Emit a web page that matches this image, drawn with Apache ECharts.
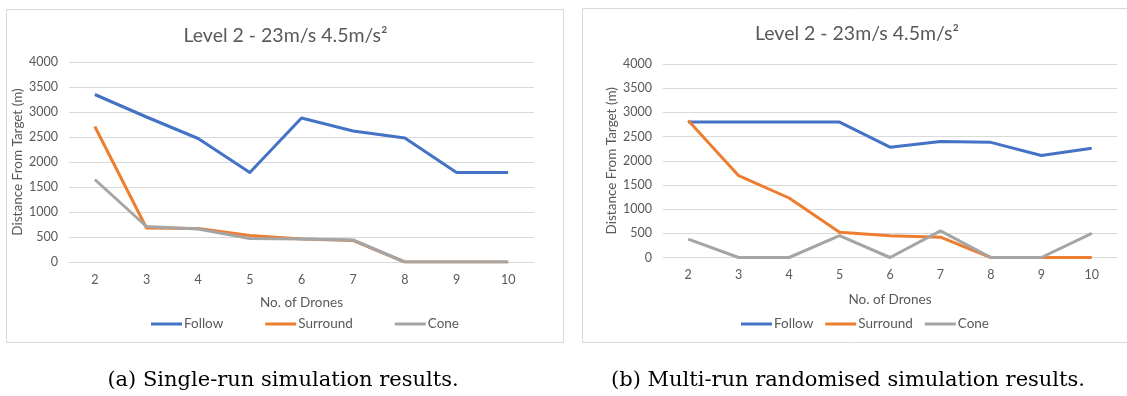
<!DOCTYPE html>
<html>
<head>
<meta charset="utf-8">
<script src="https://cdn.jsdelivr.net/npm/echarts@6/dist/echarts.min.js"></script>
<style>
  html, body { margin:0; padding:0; background:#fff; }
  #chart { width:1127px; height:396px; }
</style>
</head>
<body>
<div id="chart"></div>
<script>
    // number of drones (x categories)
    var drones = ['2', '3', '4', '5', '6', '7', '8', '9', '10']

    // (a) single-run
    var singleFollow   = [3350, 2900, 2470, 1790, 2880, 2620, 2480, 1790, 1790]
    var singleSurround = [2710, 680, 670, 530, 460, 430, 0, 0, 0]
    var singleCone     = [1650, 710, 660, 470, 460, 440, 0, 0, 0]

    // (b) multi-run randomised
    var multiFollow   = [2800, 2800, 2800, 2800, 2280, 2400, 2380, 2110, 2260]
    var multiSurround = [2830, 1690, 1230, 520, 450, 420, 0, 0, 0]
    var multiCone     = [380, 0, 0, 450, 0, 550, 0, 0, 500]

    var yTicks = { min: 0, max: 4000, interval: 500 }

    var chartTitle = 'Level 2 - 23m/s 4.5m/s\u00b2'
    var captions = ['(a) Single-run simulation results.', '(b) Multi-run randomised simulation results.']

    var FONT = 'Lato'
    var GREY = '#595959'
    var GRID = '#d9d9d9'
    var colors = { Follow: '#4472c4', Surround: '#ed7d31', Cone: '#a5a5a5' }

    function xAxis(idx, gap){
        return {
            type: 'category',
            gridIndex: idx,
            data: drones,
            name: 'No. of Drones',
            nameLocation: 'middle',
            nameGap: gap,
            nameTextStyle: { color: GREY, fontFamily: FONT, fontSize: 13.5 },
            axisLine: { lineStyle: { color: GRID, width: 1 } },
            axisTick: { show: false },
            axisLabel: { color: GREY, fontFamily: FONT, fontSize: 12.5, margin: 11 }
        }
    }
    function yAxis(idx, gap){
        return {
            type: 'value',
            gridIndex: idx,
            min: yTicks.min,
            max: yTicks.max,
            interval: yTicks.interval,
            name: 'Distance From Target (m)',
            nameLocation: 'middle',
            nameGap: gap,
            nameTextStyle: { color: GREY, fontFamily: FONT, fontSize: 13.5 },
            axisLine: { show: false },
            axisTick: { show: false },
            splitLine: { lineStyle: { color: GRID, width: 1 } },
            axisLabel: { color: GREY, fontFamily: FONT, fontSize: 12.5, margin: 11, formatter: function (v) { return String(v) } }
        }
    }
    function line(name, data, idx){
        return {
            type: 'line',
            name: name,
            xAxisIndex: idx,
            yAxisIndex: idx,
            data: data,
            showSymbol: false,
            symbol: 'none',
            color: colors[name],
            lineStyle: { width: 3, color: colors[name], join: 'round' },
            animation: false
        }
    }
    function legend(left, gap){
        return {
            left: left,
            top: 312,
            itemWidth: 31,
            itemHeight: 3,
            itemGap: gap,
            icon: 'rect',
            data: ['Follow', 'Surround', 'Cone'],
            textStyle: { color: GREY, fontFamily: FONT, fontSize: 13.5, padding: [0, 0, 0, -3] }
        }
    }
    function label(text, x, y, size, family, color){
        return {
            type: 'text',
            x: x, y: y,
            style: { text: text, fill: color, font: size + 'px ' + family, textAlign: 'center', textVerticalAlign: 'middle' }
        }
    }

    var chart = echarts.init(document.getElementById('chart'))
    chart.setOption({
        animation: false,
        grid: [
            { left: 69, top: 62, width: 465, height: 200 },
            { left: 663, top: 64, width: 454, height: 193.5 }
        ],
        xAxis: [xAxis(0, 34), xAxis(1, 35)],
        yAxis: [yAxis(0, 40), yAxis(1, 42)],
        legend: [legend(146, 42), legend(736, 12)],
        series: [
            line('Follow', singleFollow, 0),
            line('Surround', singleSurround, 0),
            line('Cone', singleCone, 0),
            line('Follow', multiFollow, 1),
            line('Surround', multiSurround, 1),
            line('Cone', multiCone, 1)
        ],
        graphic: [
            { type: 'rect', shape: { x: 6.5, y: 9.5, width: 557, height: 333 }, style: { fill: null, stroke: GRID, lineWidth: 1 }, z: -1 },
            { type: 'rect', shape: { x: 582.5, y: 8.5, width: 560, height: 334 }, style: { fill: null, stroke: GRID, lineWidth: 1 }, z: -1 },
            label(chartTitle, 285.5, 36, 19.5, FONT, GREY),
            label(chartTitle, 857, 33.5, 19.5, FONT, GREY),
            label(captions[0], 283, 381, 21, '"DejaVu Serif"', '#000'),
            label(captions[1], 848, 381, 21, '"DejaVu Serif"', '#000')
        ]
    })
</script>
</body>
</html>
